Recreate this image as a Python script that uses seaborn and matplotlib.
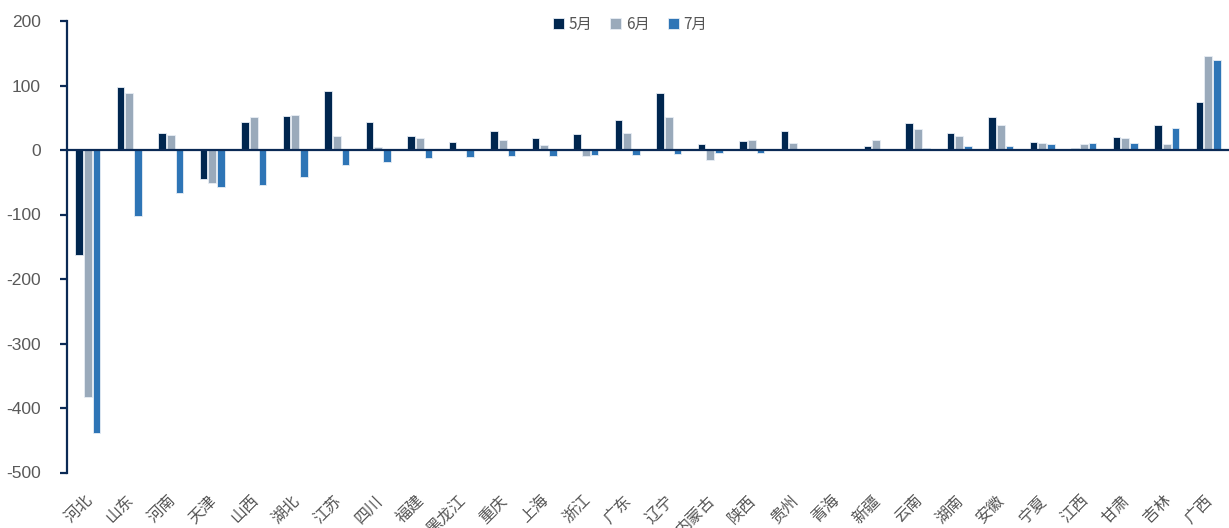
import matplotlib
matplotlib.use("Agg")
import matplotlib.pyplot as plt
import matplotlib.transforms as mtransforms
import seaborn as sns
import pandas as pd

provinces = ["河北", "山东", "河南", "天津", "山西", "湖北", "江苏", "四川", "福建", "黑龙江",
             "重庆", "上海", "浙江", "广东", "辽宁", "内蒙古", "陕西", "贵州", "青海", "新疆",
             "云南", "湖南", "安徽", "宁夏", "江西", "甘肃", "吉林", "广西"]
months = ["5月", "6月", "7月"]
may = [-163, 98, 27, -45, 44, 53, 91, 44, 21, 12,
       29, 19, 25, 46, 89, 9, 14, 30, 1, 6,
       42, 27, 51, 13, 3, 20, 38, 75]
jun = [-383, 89, 23, -51, 51, 54, 22, 5, 19, 0.5,
       16, 7, -9, 26, 51, -16, 16, 11, 0.5, 16,
       33, 21, 39, 11, 9, 19, 9, 145]
jul = [-439, -102, -66, -57, -54, -42, -23, -18, -12, -11,
       -10, -9, -8, -7, -6, -5, -4, 0.5, 0.5, 2,
       3, 6, 6, 9, 11, 11, 34, 140]

colors = ["#00264F", "#9AAABB", "#2E75B6"]
navy = "#0B2A55"
grey = "#595959"

df = pd.DataFrame({
    "province": provinces * 3,
    "month": [m for m in months for _ in provinces],
    "value": may + jun + jul,
})

sns.set_theme(style="white")
plt.rcParams["font.family"] = ["Liberation Sans", "Noto Sans CJK SC", "DejaVu Sans"]
plt.rcParams["axes.unicode_minus"] = False

fig = plt.figure(figsize=(12.29, 5.28), dpi=100)
ax = fig.add_axes([67 / 1229, 1 - 472.5 / 528, 1 - 67 / 1229, (472.5 - 21) / 528])

sns.barplot(data=df, x="province", y="value", hue="month", order=provinces,
            hue_order=months, palette=colors, saturation=1, width=0.62, gap=0.12,
            edgecolor="#E8EEF5", linewidth=0.6, ax=ax, legend=True)

ax.set_xlim(-0.5, len(provinces) - 0.5)
ax.set_ylim(-500, 200)
ax.set_yticks(range(-500, 201, 100))
ax.axhline(0, color=navy, lw=1.6, zorder=3, clip_on=False)
ax.set_xlabel("")
ax.set_ylabel("")

for side in ["top", "right", "bottom"]:
    ax.spines[side].set_visible(False)
ax.spines["left"].set_color(navy)
ax.spines["left"].set_linewidth(1.6)

ax.tick_params(axis="y", length=5, width=1.6, color=navy, direction="out",
               labelsize=12.5, labelcolor=grey, pad=14, left=True)
ax.tick_params(axis="x", length=0, pad=14)
shift = mtransforms.ScaledTranslation(-4 / 100, 0, fig.dpi_scale_trans)
for lbl in ax.get_xticklabels():
    lbl.set_rotation(45)
    lbl.set_ha("right")
    lbl.set_va("top")
    lbl.set_rotation_mode("anchor")
    lbl.set_family(["Noto Sans CJK SC", "DejaVu Sans"])
    lbl.set_fontweight("light")
    lbl.set_fontsize(11.5)
    lbl.set_color("#555555")
    lbl.set_transform(lbl.get_transform() + shift)

handles, labels = ax.get_legend_handles_labels()
ax.legend_.remove()
fig.legend(handles, labels, loc="center", bbox_to_anchor=(630 / 1229, 1 - 24 / 528),
           ncol=3, frameon=False, handlelength=0.7, handleheight=0.7,
           handletextpad=0.3, columnspacing=1.2,
           prop={"family": ["Noto Sans CJK SC", "DejaVu Sans"], "size": 11, "weight": "light"},
           labelcolor="#555555")

fig.savefig("out.png", dpi=100)
